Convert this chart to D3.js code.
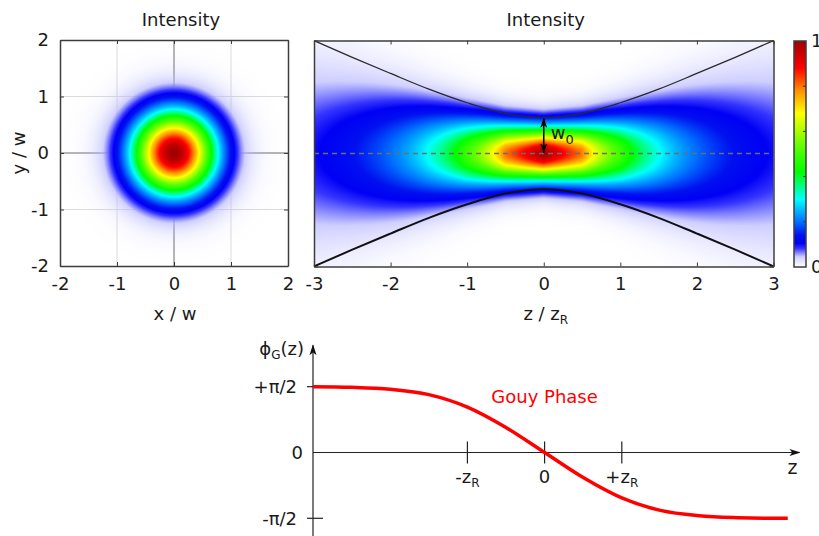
<!DOCTYPE html>
<html>
<head>
<meta charset="utf-8">
<script src="https://cdn.jsdelivr.net/npm/d3@7"></script>
<style>
    body { margin: 0; background: #fff; }
    svg { display: block; font-family: 'DejaVu Sans', Verdana, sans-serif; fill: #1a1a1a; }
</style>
</head>
<body>
<script>
(function() {
    'use strict';

    // tick values
    var xyTicks = [-2, -1, 0, 1, 2];
    var zTicks = [-3, -2, -1, 0, 1, 2, 3];

    // beam radius w(z)/w0
    var beamZ = [-3, -2.5, -2, -1.5, -1, -0.5, 0, 0.5, 1, 1.5, 2, 2.5, 3];
    var beamW = [3.16, 2.69, 2.24, 1.80, 1.42, 1.12, 1.0, 1.12, 1.42, 1.80, 2.24, 2.69, 3.16];

    // Gouy phase, in units of pi/2
    var gouyZ = [-3, -2.5, -2, -1.5, -1, -0.5, 0, 0.5, 1, 1.5, 2, 2.5, 3, 3.15];
    var gouyPhase = [1.0, 0.99, 0.96, 0.88, 0.69, 0.38, 0, -0.38, -0.69, -0.88, -0.96, -0.99, -1.0, -1.0];
    var phaseTicks = [1, 0, -1];
    var phaseLabels = ['+π/2', '0', '-π/2'];
    var zMarks = [-1, 0, 1];
    var zMarkLabels = [['-z', 'R'], ['0', ''], ['+z', 'R']];

    // palette
    var colorStops = [0, 0.045, 0.082, 0.105, 0.14, 0.2, 0.3, 0.42, 0.52, 0.68, 0.78, 0.88, 1];
    var colorValues = ['#ffffff', '#cfcfff', '#3535ff', '#0000f5', '#0010f0', '#0070ff', '#00ffff',
        '#00ff00', '#50ff00', '#ffff00', '#ff9000', '#ff0000', '#a00000'];
    var cbarTicks = [0.2, 0.4, 0.6, 0.8];
    var cbarLabels = [0, 1];

    var fontSize = '18px';
    var subSize = '12px';

    var svg = d3.select('body').append('svg')
        .attr('width', 819)
        .attr('height', 536);

    var color = d3.scaleLinear()
        .domain(colorStops)
        .range(colorValues)
        .clamp(true);

    var frameColor = '#3c3c3c';

    function heatImage(xs, ys, field, fade) {
        var x0 = xs.range()[0], y0 = ys.range()[1];
        var w = Math.round(xs.range()[1] - x0), h = Math.round(ys.range()[0] - y0);
        var canvas = document.createElement('canvas');
        canvas.width = w;
        canvas.height = h;
        var ctx = canvas.getContext('2d');
        var img = ctx.createImageData(w, h);
        for (var j = 0; j < h; j++) {
            var v = ys.invert(y0 + j + 0.5);
            for (var i = 0; i < w; i++) {
                var u = xs.invert(x0 + i + 0.5);
                var val = field(u, v);
                var c = d3.rgb(color(val));
                var a = fade ? Math.min(1, val / 0.07) : 1;
                var k = (j * w + i) * 4;
                if (a < 0.004) { img.data[k + 3] = 0; continue; }
                img.data[k] = Math.max(0, (c.r - 255 * (1 - a)) / a);
                img.data[k + 1] = Math.max(0, (c.g - 255 * (1 - a)) / a);
                img.data[k + 2] = Math.max(0, (c.b - 255 * (1 - a)) / a);
                img.data[k + 3] = Math.round(a * 255);
            }
        }
        ctx.putImageData(img, 0, 0);
        return canvas.toDataURL();
    }

    function plain(d) { return String(d); }

    function frame(g, xs, ys, xt, yt, labelsX, labelsY) {
        var bottom = d3.axisBottom(xs).tickValues(xt).tickSize(-4).tickSizeOuter(0).tickPadding(11)
            .tickFormat(labelsX ? plain : '');
        var left = d3.axisLeft(ys).tickValues(yt).tickSize(-4).tickSizeOuter(0).tickPadding(11)
            .tickFormat(labelsY ? plain : '');
        var top = d3.axisTop(xs).tickValues(xt).tickSize(-4).tickSizeOuter(0).tickFormat('');
        var right = d3.axisRight(ys).tickValues(yt).tickSize(-4).tickSizeOuter(0).tickFormat('');
        g.append('g').attr('transform', 'translate(0,' + ys.range()[0] + ')').call(bottom);
        g.append('g').attr('transform', 'translate(' + xs.range()[0] + ',0)').call(left);
        g.append('g').attr('transform', 'translate(0,' + ys.range()[1] + ')').call(top);
        g.append('g').attr('transform', 'translate(' + xs.range()[1] + ',0)').call(right);
        g.selectAll('.domain').attr('stroke', frameColor).attr('stroke-width', 1.5);
        g.selectAll('.tick line').attr('stroke', frameColor);
        g.selectAll('.tick text')
            .attr('fill', '#1a1a1a')
            .style('font-size', fontSize)
            .style('font-family', "'DejaVu Sans', Verdana, sans-serif");
    }

    // ---- left panel: transverse intensity ----
    var lx = d3.scaleLinear().domain([-2, 2]).range([60, 288]);
    var ly = d3.scaleLinear().domain([-2, 2]).range([266, 40]);
    var left = svg.append('g');

    left.append('g').selectAll('line')
        .data(xyTicks.slice(1, -1))
        .enter().append('line')
        .attr('x1', function(d) { return lx(d); })
        .attr('x2', function(d) { return lx(d); })
        .attr('y1', ly(-2)).attr('y2', ly(2))
        .attr('stroke', function(d) { return d === 0 ? '#6a6a6a' : '#dcdcdc'; })
        .attr('stroke-width', 1);
    left.append('g').selectAll('line')
        .data(xyTicks.slice(1, -1))
        .enter().append('line')
        .attr('y1', function(d) { return ly(d); })
        .attr('y2', function(d) { return ly(d); })
        .attr('x1', lx(-2)).attr('x2', lx(2))
        .attr('stroke', function(d) { return d === 0 ? '#6a6a6a' : '#dcdcdc'; })
        .attr('stroke-width', 1);

    left.append('image')
        .attr('x', lx(-2)).attr('y', ly(2))
        .attr('width', lx(2) - lx(-2)).attr('height', ly(-2) - ly(2))
        .attr('preserveAspectRatio', 'none')
        .attr('href', heatImage(lx, ly, function(x, y) {
            return Math.exp(-2 * (x * x + y * y));
        }, true));

    frame(left, lx, ly, xyTicks, xyTicks, true, true);

    left.append('text')
        .attr('x', 181).attr('y', 26)
        .attr('text-anchor', 'middle')
        .style('font-size', fontSize)
        .text('Intensity');
    left.append('text')
        .attr('x', lx(0) + 1).attr('y', 320)
        .attr('text-anchor', 'middle')
        .style('font-size', fontSize)
        .text('x / w');
    left.append('text')
        .attr('transform', 'translate(25,' + ly(0) + ') rotate(-90)')
        .attr('text-anchor', 'middle')
        .style('font-size', fontSize)
        .text('y / w');

    // ---- right panel: intensity along z ----
    var zx = d3.scaleLinear().domain([-3, 3]).range([314, 773.5]);
    var ry = d3.scaleLinear().domain([-3.162, 3.162]).range([266.5, 40.5]);
    var wOf = d3.scaleLinear().domain(beamZ).range(beamW);
    var right = svg.append('g');

    right.append('image')
        .attr('x', zx(-3)).attr('y', ry(3.162))
        .attr('width', zx(3) - zx(-3)).attr('height', ry(-3.162) - ry(3.162))
        .attr('preserveAspectRatio', 'none')
        .attr('href', heatImage(zx, ry, function(z, r) {
            var w = wOf(z);
            return Math.exp(-2 * r * r / (w * w)) / (w * w);
        }, false));

    var envelope = beamZ.map(function(z, i) { return [z, beamW[i]]; });
    right.append('path')
        .datum(envelope)
        .attr('fill', 'none')
        .attr('stroke', '#2a2a2a')
        .attr('stroke-width', 1.3)
        .attr('d', d3.line()
            .x(function(d) { return zx(d[0]); })
            .y(function(d) { return ry(d[1]); })
            .curve(d3.curveMonotoneX));
    right.append('path')
        .datum(envelope)
        .attr('fill', 'none')
        .attr('stroke', '#111')
        .attr('stroke-width', 2)
        .attr('d', d3.line()
            .x(function(d) { return zx(d[0]); })
            .y(function(d) { return ry(-d[1]); })
            .curve(d3.curveMonotoneX));

    right.append('line')
        .attr('x1', zx(-3)).attr('x2', zx(3))
        .attr('y1', ry(0)).attr('y2', ry(0))
        .attr('stroke', '#6e6e6e')
        .attr('stroke-width', 1.3)
        .attr('stroke-dasharray', '5,4');

    var defs = svg.append('defs');
    defs.append('marker')
        .attr('id', 'head')
        .attr('viewBox', '0 0 10 10')
        .attr('refX', 9).attr('refY', 5)
        .attr('markerWidth', 10).attr('markerHeight', 10)
        .attr('markerUnits', 'userSpaceOnUse')
        .attr('orient', 'auto-start-reverse')
        .append('path')
        .attr('d', 'M0,1.5 L10,5 L0,8.5 L2.5,5 Z')
        .attr('fill', '#000');

    right.append('line')
        .attr('x1', zx(0)).attr('x2', zx(0))
        .attr('y1', ry(0) - 1).attr('y2', ry(1) + 1)
        .attr('stroke', '#000')
        .attr('stroke-width', 1.5)
        .attr('marker-start', 'url(#head)')
        .attr('marker-end', 'url(#head)');

    var w0 = right.append('text')
        .attr('x', zx(0) + 7).attr('y', ry(0.4))
        .style('font-size', fontSize);
    w0.append('tspan').text('w');
    w0.append('tspan').attr('dy', 5).style('font-size', '13px').text('0');

    frame(right, zx, ry, zTicks, [-3.162, 3.162], true, false);

    right.append('text')
        .attr('x', zx(0) + 2).attr('y', 26)
        .attr('text-anchor', 'middle')
        .style('font-size', fontSize)
        .text('Intensity');
    var zl = right.append('text')
        .attr('x', zx(0) + 2).attr('y', 320)
        .attr('text-anchor', 'middle')
        .style('font-size', fontSize);
    zl.append('tspan').text('z / z');
    zl.append('tspan').attr('dy', 4).style('font-size', subSize).text('R');

    // ---- colorbar ----
    var cy = d3.scaleLinear().domain([0, 1]).range([267, 41]);
    var grad = defs.append('linearGradient')
        .attr('id', 'cbar')
        .attr('x1', '0%').attr('y1', '100%')
        .attr('x2', '0%').attr('y2', '0%');
    grad.selectAll('stop')
        .data(colorStops)
        .enter().append('stop')
        .attr('offset', function(d) { return (d * 100) + '%'; })
        .attr('stop-color', function(d, i) { return colorValues[i]; });

    svg.append('rect')
        .attr('x', 794).attr('y', cy(1))
        .attr('width', 12).attr('height', cy(0) - cy(1))
        .attr('fill', 'url(#cbar)')
        .attr('stroke', frameColor)
        .attr('stroke-width', 1.5);
    svg.append('g').selectAll('line')
        .data(cbarTicks)
        .enter().append('line')
        .attr('x1', 803).attr('x2', 806)
        .attr('y1', function(d) { return cy(d); })
        .attr('y2', function(d) { return cy(d); })
        .attr('stroke', '#333');
    svg.append('g').selectAll('text')
        .data(cbarLabels)
        .enter().append('text')
        .attr('x', 811)
        .attr('y', function(d) { return cy(d); })
        .attr('dy', '0.36em')
        .style('font-size', fontSize)
        .text(function(d) { return d; });

    // ---- bottom panel: Gouy phase ----
    var gz = d3.scaleLinear().domain([-3, 3]).range([313, 776.2]);
    var gp = d3.scaleLinear().domain([-1, 1]).range([518.3, 386.7]);
    var bottom = svg.append('g');

    defs.append('marker')
        .attr('id', 'axhead')
        .attr('viewBox', '0 0 10 10')
        .attr('refX', 9).attr('refY', 5)
        .attr('markerWidth', 11).attr('markerHeight', 11)
        .attr('markerUnits', 'userSpaceOnUse')
        .attr('orient', 'auto')
        .append('path')
        .attr('d', 'M0,1.8 L10,5 L0,8.2 L2.5,5 Z')
        .attr('fill', '#111');

    bottom.append('line')
        .attr('x1', gz(-3)).attr('x2', gz(-3))
        .attr('y1', gp(-1.3)).attr('y2', gp(1.63))
        .attr('stroke', '#222').attr('stroke-width', 1.2)
        .attr('marker-end', 'url(#axhead)');
    bottom.append('line')
        .attr('x1', gz(-3)).attr('x2', gz(3.3))
        .attr('y1', gp(0)).attr('y2', gp(0))
        .attr('stroke', '#222').attr('stroke-width', 1.2)
        .attr('marker-end', 'url(#axhead)');

    bottom.append('g').selectAll('line')
        .data(phaseTicks.filter(function(d) { return d !== 0; }))
        .enter().append('line')
        .attr('x1', gz(-3) - 6).attr('x2', gz(-3) + 10)
        .attr('y1', function(d) { return gp(d); })
        .attr('y2', function(d) { return gp(d); })
        .attr('stroke', '#222').attr('stroke-width', 1.2);
    bottom.append('g').selectAll('text')
        .data(phaseTicks)
        .enter().append('text')
        .attr('x', function(d) { return gz(-3) - (d === 0 ? 10 : 16); })
        .attr('y', function(d) { return gp(d); })
        .attr('dy', '0.36em')
        .attr('text-anchor', 'end')
        .style('font-size', fontSize)
        .text(function(d, i) { return phaseLabels[i]; });

    bottom.append('g').selectAll('line')
        .data(zMarks)
        .enter().append('line')
        .attr('x1', function(d) { return gz(d); })
        .attr('x2', function(d) { return gz(d); })
        .attr('y1', gp(0) - 11).attr('y2', gp(0) + 11)
        .attr('stroke', '#222').attr('stroke-width', 1.2);
    var zm = bottom.append('g').selectAll('text')
        .data(zMarks)
        .enter().append('text')
        .attr('x', function(d) { return gz(d); })
        .attr('y', gp(0) + 30)
        .attr('text-anchor', 'middle')
        .style('font-size', fontSize);
    zm.append('tspan').text(function(d, i) { return zMarkLabels[i][0]; });
    zm.append('tspan')
        .attr('dy', 4)
        .style('font-size', subSize)
        .text(function(d, i) { return zMarkLabels[i][1]; });

    bottom.append('text')
        .attr('x', gz(3.21)).attr('y', gp(0) + 21)
        .attr('text-anchor', 'middle')
        .style('font-size', '19px')
        .text('z');

    var phi = bottom.append('text')
        .attr('x', gz(-3) - 9).attr('y', gp(1.48))
        .attr('text-anchor', 'end')
        .style('font-size', fontSize);
    phi.append('tspan').text('ϕ');
    phi.append('tspan').attr('dy', 4).style('font-size', subSize).text('G');
    phi.append('tspan').attr('dy', -4).text('(z)');

    bottom.append('path')
        .datum(gouyZ.map(function(z, i) { return [z, gouyPhase[i]]; }))
        .attr('fill', 'none')
        .attr('stroke', '#ff0000')
        .attr('stroke-width', 3.5)
        .attr('d', d3.line()
            .x(function(d) { return gz(d[0]); })
            .y(function(d) { return gp(d[1]); })
            .curve(d3.curveMonotoneX));

    bottom.append('text')
        .attr('x', gz(-0.69)).attr('y', gp(0.75))
        .attr('fill', '#ff0000')
        .style('font-size', fontSize)
        .text('Gouy Phase');

}());
</script>
</body>
</html>
